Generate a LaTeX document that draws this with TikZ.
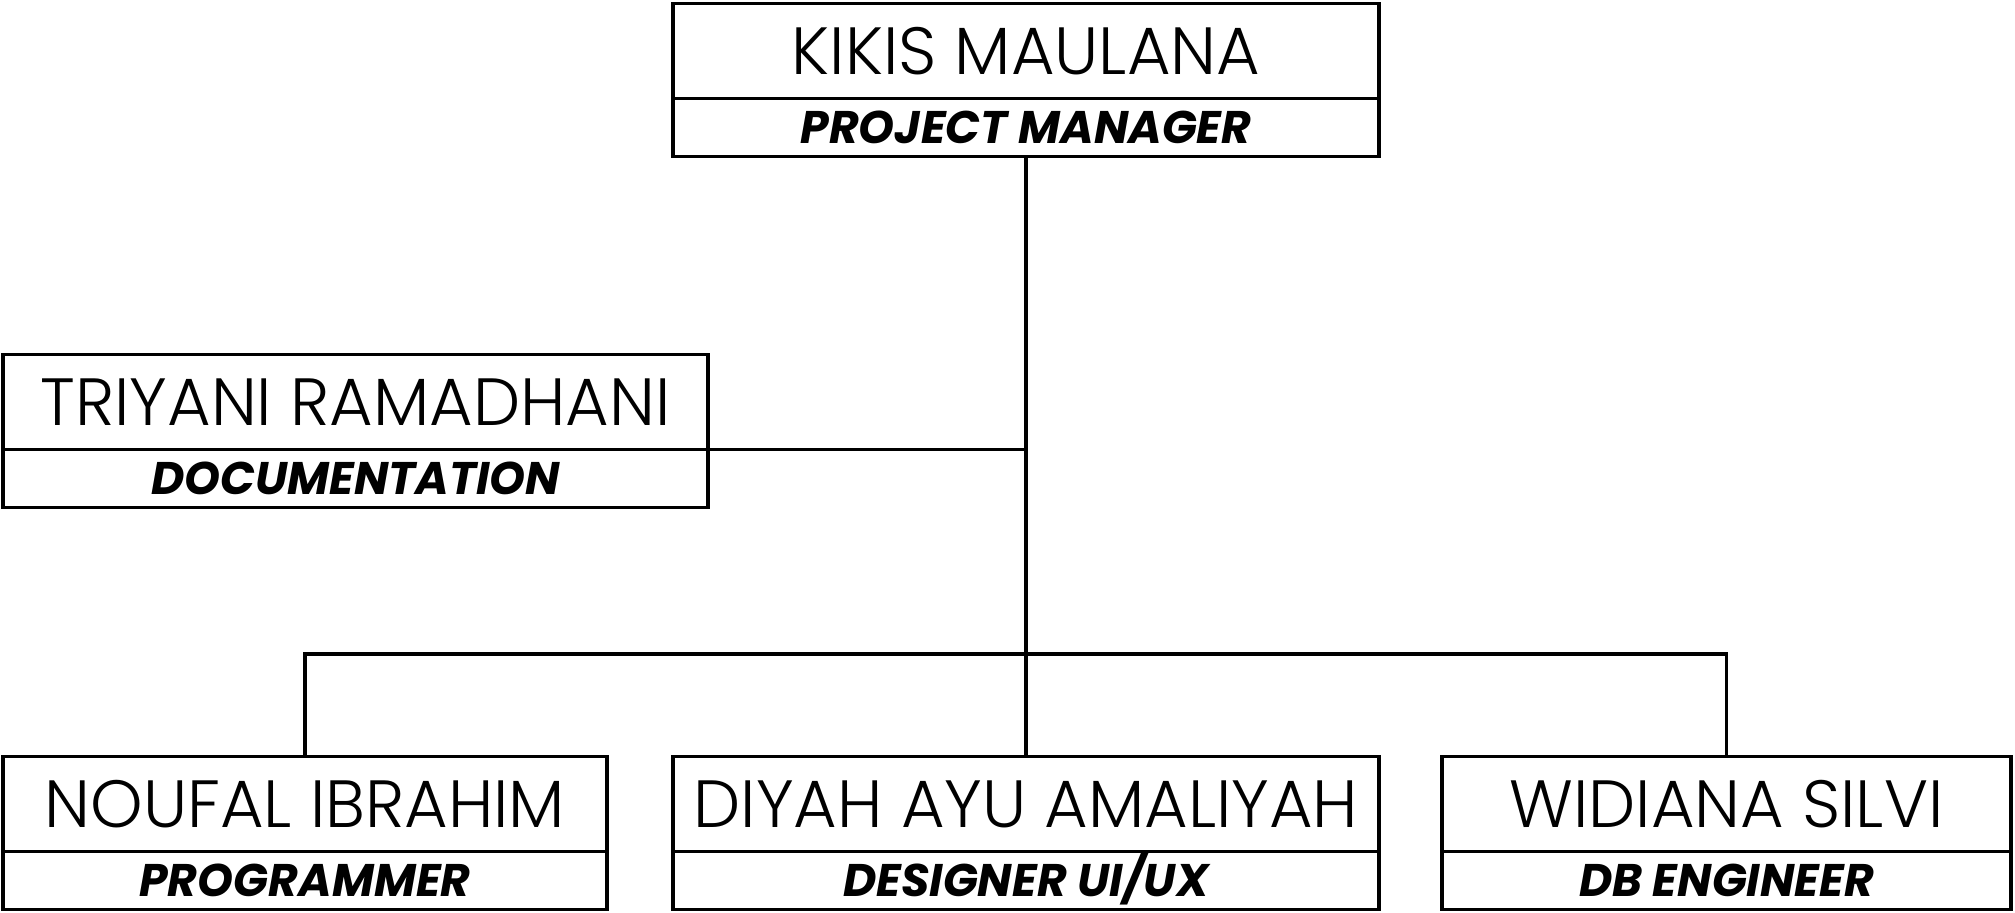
\documentclass[tikz,border=0pt]{standalone}
\usepackage{fontspec}
\setmainfont{Poppins}
\newfontfamily\namefont{Poppins Light}
\usetikzlibrary{positioning,calc}

\begin{document}
\begin{tikzpicture}[x=0.01cm,y=-0.01cm, line width=1.1pt,
  namebox/.style={draw,inner sep=0pt,outer sep=0pt,minimum height=0.95cm,text height=13.3pt,text depth=0pt,font=\namefont\fontsize{19}{23}\selectfont},
  rolebox/.style={draw,inner sep=0pt,outer sep=0pt,minimum height=0.58cm,text height=9.1pt,text depth=0pt,below=0pt of #1,font=\fontsize{13}{16}\selectfont\bfseries\itshape}]
\useasboundingbox (0,0) rectangle (2015,913);
\node[namebox,minimum width=7.06cm] (pmname) at (1026,51) {KIKIS MAULANA};
\node[rolebox=pmname,minimum width=7.06cm] (pmrole) {PROJECT MANAGER};
\node[namebox,minimum width=7.05cm] (docname) at (355.5,402) {TRIYANI RAMADHANI};
\node[rolebox=docname,minimum width=7.05cm] (docrole) {DOCUMENTATION};
\node[namebox,minimum width=6.04cm] (progname) at (305,804) {NOUFAL IBRAHIM};
\node[rolebox=progname,minimum width=6.04cm] (progrole) {PROGRAMMER};
\node[namebox,minimum width=7.06cm] (desname) at (1026,804) {DIYAH AYU AMALIYAH};
\node[rolebox=desname,minimum width=7.06cm] (desrole) {DESIGNER UI/UX};
\node[namebox,minimum width=5.69cm] (dbname) at (1726.5,804) {WIDIANA SILVI};
\node[rolebox=dbname,minimum width=5.69cm] (dbrole) {DB ENGINEER};
\coordinate (bus) at (pmrole.south |- 0,654);
\draw (pmrole.south) -- (desname.north);
\draw (docname.south east) -- (docname.south east -| pmrole.south);
\draw (progname.north) |- (bus) -| (dbname.north);
\end{tikzpicture}
\end{document}
